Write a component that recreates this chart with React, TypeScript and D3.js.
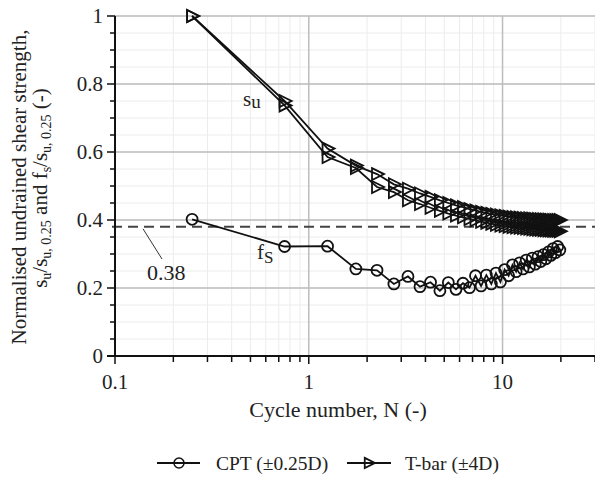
import React from "react";
import * as d3 from "d3";

const cycles: number[] = [
  0.25, 0.75, 1.25, 1.75, 2.25, 2.75, 3.25, 3.75, 4.25, 4.75,
  5.25, 5.75, 6.25, 6.75, 7.25, 7.75, 8.25, 8.75, 9.25, 9.75,
  10.25, 10.75, 11.25, 11.75, 12.25, 12.75, 13.25, 13.75, 14.25, 14.75,
  15.25, 15.75, 16.25, 16.75, 17.25, 17.75, 18.25, 18.75, 19.25, 19.75,
];

const tbarUpper: number[] = [
  1.0, 0.75, 0.61, 0.56, 0.535, 0.505, 0.492, 0.478, 0.468, 0.458,
  0.45, 0.443, 0.438, 0.432, 0.428, 0.424, 0.421, 0.418, 0.416, 0.414,
  0.412, 0.41, 0.409, 0.408, 0.407, 0.406, 0.405, 0.405, 0.404, 0.403,
  0.403, 0.402, 0.402, 0.401, 0.401, 0.4, 0.4, 0.4, 0.4, 0.4,
];

const tbarLower: number[] = [
  1.0, 0.737, 0.585, 0.553, 0.497, 0.482, 0.458, 0.447, 0.436, 0.427,
  0.419, 0.413, 0.408, 0.403, 0.399, 0.395, 0.392, 0.389, 0.386, 0.384,
  0.382, 0.38, 0.379, 0.378, 0.377, 0.376, 0.375, 0.374, 0.373, 0.372,
  0.371, 0.371, 0.37, 0.37, 0.369, 0.369, 0.368, 0.368, 0.368, 0.367,
];

const cptFs: number[] = [
  0.402, 0.322, 0.323, 0.256, 0.252, 0.212, 0.234, 0.204, 0.217, 0.192,
  0.216, 0.196, 0.214, 0.201, 0.236, 0.206, 0.238, 0.212, 0.244, 0.218,
  0.254, 0.236, 0.268, 0.248, 0.274, 0.256, 0.282, 0.262, 0.288, 0.27,
  0.292, 0.278, 0.298, 0.286, 0.306, 0.296, 0.316, 0.304, 0.322, 0.312,
];

const refLevel = 0.38;
const xTickLabels: number[] = [0.1, 1, 10];
const yTickLabels: number[] = [0, 0.2, 0.4, 0.6, 0.8, 1];

const W = 595;
const H = 479;
const left = 115;
const right = 595;
const top = 16;
const bottom = 356;

const x = d3.scaleLog().domain([0.1, 30]).range([left, right]);
const y = d3.scaleLinear().domain([0, 1]).range([bottom, top]);

const FONT = "'Liberation Serif', 'Times New Roman', serif";
const TXT = "#222";

function tri(cx: number, cy: number, s = 1) {
  return `M${cx - 5 * s},${cy - 6 * s}L${cx + 7 * s},${cy}L${cx - 5 * s},${cy + 6 * s}Z`;
}

export default function App() {
  const minorX: number[] = [];
  [0.1, 1, 10].forEach((d) => {
    for (let k = 2; k <= 9; k++) {
      const v = d * k;
      if (v <= 30) minorX.push(v);
    }
  });
  const minorY = d3.range(0, 1.0001, 0.05).map((v) => +v.toFixed(2));

  const line = d3
    .line<number>()
    .x((_, i) => x(cycles[i]))
    .y((d) => y(d));

  return (
    <svg
      width={W}
      height={H}
      style={{ position: "absolute", left: 0, top: 0, background: "#fff" }}
      fontFamily={FONT}
    >
      {/* minor grid */}
      {minorX.map((v) => (
        <line key={"mx" + v} x1={x(v)} x2={x(v)} y1={top} y2={bottom} stroke="#ececec" strokeWidth={1} />
      ))}
      {minorY.map((v) => (
        <line key={"my" + v} x1={left} x2={right} y1={y(v)} y2={y(v)} stroke="#ececec" strokeWidth={1} />
      ))}
      {/* major grid */}
      {[1, 10].map((v) => (
        <line key={"Mx" + v} x1={x(v)} x2={x(v)} y1={top} y2={bottom} stroke="#bdbdbd" strokeWidth={1.5} />
      ))}
      {yTickLabels.filter((v) => v > 0).map((v) => (
        <line key={"My" + v} x1={left} x2={right} y1={y(v)} y2={y(v)} stroke="#bdbdbd" strokeWidth={1.5} />
      ))}

      {/* reference dashed line */}
      <line x1={left - 3} x2={right} y1={y(refLevel)} y2={y(refLevel)} stroke="#444" strokeWidth={2} strokeDasharray="10,6" />
      <line x1={143} y1={y(refLevel) + 2} x2={162} y2={259} stroke="#333" strokeWidth={1} />
      <text x={147} y={280} fontSize={22} fill={TXT}>
        {refLevel.toFixed(2)}
      </text>

      {/* axes */}
      <line x1={left} x2={left} y1={top} y2={bottom + 1} stroke="#111" strokeWidth={2} />
      <line x1={left - 8} x2={right} y1={bottom} y2={bottom} stroke="#111" strokeWidth={2} />
      {minorY.map((v) => {
        const major = yTickLabels.some((t) => Math.abs(t - v) < 1e-6);
        return (
          <line key={"ty" + v} x1={left - (major ? 8 : 5)} x2={left} y1={y(v)} y2={y(v)} stroke="#111" strokeWidth={1.5} />
        );
      })}
      {minorX.map((v) => (
        <line key={"tx" + v} x1={x(v)} x2={x(v)} y1={bottom} y2={bottom + 6} stroke="#111" strokeWidth={1.5} />
      ))}
      {xTickLabels.map((v) => (
        <line key={"tX" + v} x1={x(v)} x2={x(v)} y1={bottom} y2={bottom + 8} stroke="#111" strokeWidth={1.5} />
      ))}
      {yTickLabels.map((v) => (
        <text key={"ly" + v} x={left - 12} y={y(v) + 7} textAnchor="end" fontSize={21} fill={TXT}>
          {String(v)}
        </text>
      ))}
      {xTickLabels.map((v) => (
        <text key={"lx" + v} x={x(v)} y={389} textAnchor="middle" fontSize={21} fill={TXT}>
          {String(v)}
        </text>
      ))}

      {/* axis titles */}
      <text x={338} y={417} textAnchor="middle" fontSize={22} fill={TXT}>
        Cycle number, N (-)
      </text>
      <g transform="translate(26,187) rotate(-90)">
        <text x={0} y={0} textAnchor="middle" fontSize={21} fill={TXT}>
          Normalised undrained shear strength,
        </text>
      </g>
      <g transform="translate(47,188) rotate(-90)">
        <text x={0} y={0} textAnchor="middle" fontSize={21} fill={TXT}>
          <tspan>s</tspan>
          <tspan fontSize={14} dy={4}>u</tspan>
          <tspan dy={-4}>/s</tspan>
          <tspan fontSize={14} dy={4}>u, 0.25</tspan>
          <tspan dy={-4}> and f</tspan>
          <tspan fontSize={14} dy={4}>s</tspan>
          <tspan dy={-4}>/s</tspan>
          <tspan fontSize={14} dy={4}>u, 0.25</tspan>
          <tspan dy={-4}> (-)</tspan>
        </text>
      </g>

      {/* series lines */}
      <path d={line(tbarUpper) || ""} fill="none" stroke="#111" strokeWidth={1.8} />
      <path d={line(tbarLower) || ""} fill="none" stroke="#111" strokeWidth={1.8} />
      <path d={line(cptFs) || ""} fill="none" stroke="#111" strokeWidth={1.8} />

      {/* markers */}
      {tbarUpper.map((v, i) => (
        <path key={"tu" + i} d={tri(x(cycles[i]), y(v))} fill="none" stroke="#111" strokeWidth={1.8} />
      ))}
      {tbarLower.map((v, i) => (
        <path key={"tl" + i} d={tri(x(cycles[i]), y(v))} fill="none" stroke="#111" strokeWidth={1.8} />
      ))}
      {cptFs.map((v, i) => (
        <circle key={"c" + i} cx={x(cycles[i])} cy={y(v)} r={5.5} fill="none" stroke="#111" strokeWidth={1.8} />
      ))}

      {/* annotations */}
      <text x={243} y={106} fontSize={21} fill={TXT}>
        s<tspan fontSize={19} dy={2}>u</tspan>
      </text>
      <text x={257} y={259} fontSize={21} fill={TXT}>
        f<tspan fontSize={17} dy={4}>S</tspan>
      </text>

      {/* legend */}
      <line x1={157} x2={200} y1={463} y2={463} stroke="#111" strokeWidth={1.8} />
      <circle cx={179} cy={463} r={5} fill="none" stroke="#111" strokeWidth={1.5} />
      <text x={216} y={470} fontSize={19.5} fill={TXT}>CPT (±0.25D)</text>
      <line x1={347} x2={391} y1={463} y2={463} stroke="#111" strokeWidth={1.8} />
      <path d={tri(369, 463, 0.85)} fill="none" stroke="#111" strokeWidth={1.8} />
      <text x={405} y={470} fontSize={19.5} fill={TXT}>T-bar (±4D)</text>
    </svg>
  );
}
